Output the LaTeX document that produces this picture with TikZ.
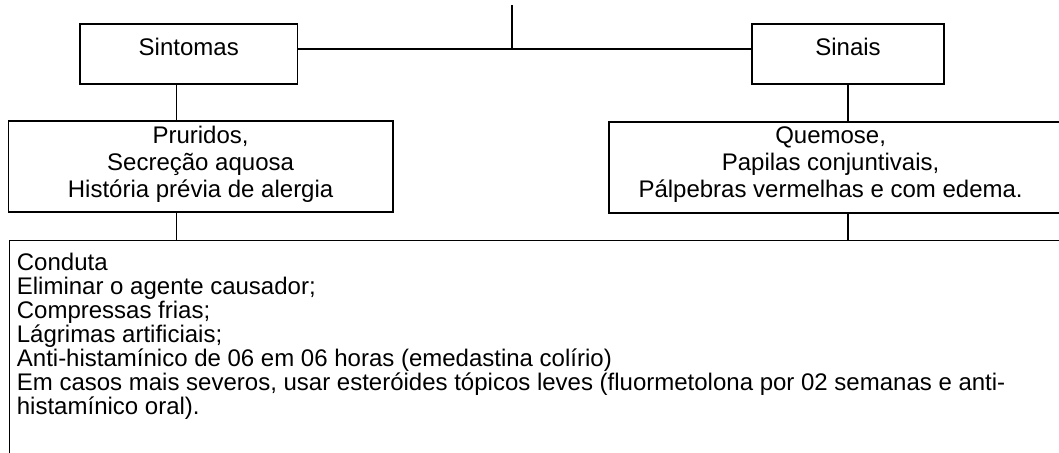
\documentclass[tikz,border=0pt]{standalone}
\usepackage{fontspec}
\setmainfont{Liberation Sans}
\begin{document}
\begin{tikzpicture}[x=0.5pt,y=-0.5pt,line width=0.9pt,
	caixa/.style={draw,inner sep=0pt,font=\fontsize{12}{13.4}\selectfont},
	titulo/.style={caixa,anchor=base,minimum width=#1,text height=15.65pt,text depth=14.5pt}]
	\useasboundingbox (0,0) rectangle (1059,452);
	\clip (0,0) rectangle (1059,452);
	\coordinate (topo) at (512,5);
	\coordinate (juncao) at (512,49);
	\coordinate (eixo) at (176.5,0);
	\node[titulo=108.75pt] (sintomas) at (188.75,55) {Sintomas};
	\node[titulo=96pt] (sinais) at (848,55) {Sinais};
	\node[caixa,anchor=base,minimum width=192.15pt,text height=11.25pt,text depth=34.25pt] (pruridos) at (200.6,143.5)
		{\begin{tabular}[t]{@{}c@{}}Pruridos,\\Secreção aquosa\\História prévia de alergia\end{tabular}};
	\node[caixa,anchor=north west,minimum width=236pt,minimum height=45.5pt] (quemose) at (608,121) {};
	\node[anchor=base,inner sep=0pt,font=\fontsize{12}{13.4}\selectfont] (quemosetxt) at (830.6,143.5)
		{\begin{tabular}[t]{@{}c@{}}Quemose,\\Papilas conjuntivais,\\Pálpebras vermelhas e com edema.\end{tabular}};
	\node[caixa,anchor=north west,inner xsep=3.75pt,text height=15.25pt,text depth=110pt] (conduta) at (8.5,239.5)
		{\parbox[t]{540pt}{\fontsize{12}{12}\selectfont Conduta\\
		Eliminar o agente causador;\\
		Compressas frias;\\
		Lágrimas artificiais;\\
		Anti-histamínico de 06 em 06 horas (emedastina colírio)\\
		Em casos mais severos, usar esteróides tópicos leves (fluormetolona por 02 semanas e anti-\\
		histamínico oral).}};
	\draw (topo) -- (juncao);
	\draw (sintomas.east |- juncao) -- (sinais.west |- juncao);
	\draw (sintomas.south -| eixo) -- (pruridos.north -| eixo);
	\draw (pruridos.south -| eixo) -- (conduta.north -| eixo);
	\draw (sinais.south) -- (quemose.north -| sinais.south);
	\draw (quemose.south -| sinais.south) -- (conduta.north -| sinais.south);
\end{tikzpicture}
\end{document}
